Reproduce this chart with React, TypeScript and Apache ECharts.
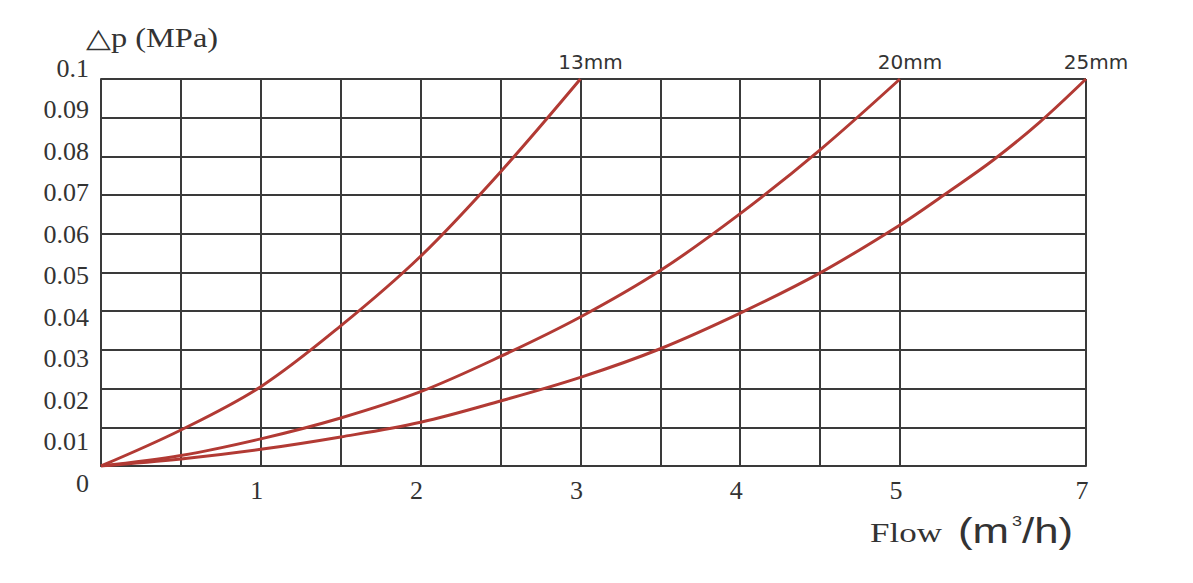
import React, { useEffect, useRef } from "react";
import * as echarts from "echarts";

// ---- data ----
const seriesNames = ["13mm", "20mm", "25mm"];

const flow13 = [0, 0.5, 1, 1.5, 2, 2.5, 3];
const dp13 = [0, 0.0093, 0.0205, 0.0362, 0.0542, 0.076, 0.1];

const flow20 = [0, 0.5, 1, 1.5, 2, 2.5, 3, 3.5, 4, 4.5, 5];
const dp20 = [0, 0.0027, 0.007, 0.0124, 0.0192, 0.0283, 0.0385, 0.0505, 0.0652, 0.0817, 0.1];

const flow25 = [0, 0.5, 1, 1.5, 2, 2.5, 3, 3.5, 4, 4.5, 5, 5.5, 6, 6.5, 7];
const dp25 = [0, 0.0018, 0.0043, 0.0075, 0.0113, 0.0168, 0.0229, 0.0303, 0.0395, 0.0499, 0.0623, 0.0705, 0.079, 0.0888, 0.1];

// vertical grid lines (flow, m3/h) and labelled flow ticks
const xGridFlows = [0, 0.5, 1, 1.5, 2, 2.5, 3, 3.5, 4, 4.5, 5, 7];
const xLabelFlows = [1, 2, 3, 4, 5, 7];
const yTickLabels = ["0", "0.01", "0.02", "0.03", "0.04", "0.05", "0.06", "0.07", "0.08", "0.09", "0.1"];

// The reference compresses the last cell (5 -> 7) of the flow axis.
const LINEAR_END = 5;
const LAST_FLOW = 7;
const LAST_SPAN = 1.164; // axis units used by the 5 -> 7 cell

function flowToAxis(f: number): number {
  return f <= LINEAR_END ? f : LINEAR_END + ((f - LINEAR_END) * LAST_SPAN) / (LAST_FLOW - LINEAR_END);
}
function axisToFlow(a: number): number {
  return a <= LINEAR_END ? a : LINEAR_END + ((a - LINEAR_END) * (LAST_FLOW - LINEAR_END)) / LAST_SPAN;
}

const GRID_COLOR = "#3a3a3a";
const CURVE_COLOR = "#b23a34";
const TEXT_COLOR = "#333";
const SERIF = '"Liberation Serif", "Times New Roman", serif';
const SANS = '"Liberation Sans", Arial, sans-serif';

export default function App() {
  const ref = useRef<HTMLDivElement>(null);

  useEffect(() => {
    if (!ref.current) return;
    const chart = echarts.init(ref.current, undefined, { renderer: "svg" });

    const mk = (name: string, fx: number[], fy: number[]) => ({
      name,
      type: "line",
      xAxisIndex: 0,
      yAxisIndex: 0,
      data: fx.map((f, i) => [flowToAxis(f), fy[i]]),
      showSymbol: false,
      symbol: "none",
      smooth: 0.35,
      lineStyle: { color: CURVE_COLOR, width: 3 },
      itemStyle: { color: CURVE_COLOR },
      endLabel: {
        show: true,
        formatter: "{a}",
        align: "center",
        verticalAlign: "bottom",
        distance: 0,
        offset: [10, -7],
        fontFamily: '"DejaVu Sans", sans-serif',
        fontSize: 20,
        color: TEXT_COLOR,
      },
      z: 5,
    });

    const option = {
      animation: false,
      backgroundColor: "#ffffff",
      grid: [
        { left: 101, right: 107, top: 79, bottom: 117 },
        { left: 101, right: 107, top: 68, bottom: 100 },
      ],
      xAxis: [
        {
          type: "value",
          gridIndex: 0,
          min: 0,
          max: flowToAxis(LAST_FLOW),
          axisLine: { show: true, lineStyle: { color: GRID_COLOR, width: 2 } },
          axisTick: { show: false, customValues: xGridFlows.map(flowToAxis) },
          axisLabel: {
            customValues: xLabelFlows.map(flowToAxis),
            formatter: (v: number) => String(Math.round(axisToFlow(v))),
            margin: 11,
            padding: [0, 8, 0, 0],
            fontFamily: SERIF,
            fontSize: 26,
            color: TEXT_COLOR,
          },
          splitLine: { show: true, lineStyle: { color: GRID_COLOR, width: 2 } },
        },
        { type: "value", gridIndex: 1, min: 0, max: 1, show: false },
      ],
      yAxis: [
        {
          type: "value",
          gridIndex: 0,
          min: 0,
          max: 0.1,
          interval: 0.01,
          axisLine: { show: true, lineStyle: { color: GRID_COLOR, width: 2 } },
          axisTick: { show: false },
          axisLabel: { show: false },
          splitLine: { show: true, lineStyle: { color: GRID_COLOR, width: 2 } },
        },
        {
          type: "value",
          gridIndex: 1,
          min: 0,
          max: 0.1,
          interval: 0.01,
          axisLine: { show: false },
          axisTick: { show: false },
          splitLine: { show: false },
          axisLabel: {
            formatter: (v: number) => yTickLabels[Math.round(v * 100)] ?? "",
            margin: 12,
            fontFamily: SERIF,
            fontSize: 26,
            color: TEXT_COLOR,
          },
        },
      ],
      graphic: [
        {
          type: "text",
          x: 86,
          y: 37,
          scaleX: 1.2,
          style: { text: "△p (MPa)", fontFamily: SERIF, fontSize: 27, fill: TEXT_COLOR, align: "left", verticalAlign: "middle" },
        },
        {
          type: "text",
          x: 870,
          y: 533,
          scaleX: 1.25,
          style: { text: "Flow", fontFamily: SERIF, fontSize: 28, fill: TEXT_COLOR, align: "left", verticalAlign: "middle" },
        },
        {
          type: "text",
          x: 958,
          y: 531,
          scaleX: 1.25,
          style: { text: "(m", fontFamily: SANS, fontSize: 35, fill: TEXT_COLOR, align: "left", verticalAlign: "middle" },
        },
        {
          type: "text",
          x: 1012,
          y: 521,
          scaleX: 1.2,
          style: { text: "3", fontFamily: SANS, fontSize: 15, fill: TEXT_COLOR, align: "left", verticalAlign: "middle" },
        },
        {
          type: "text",
          x: 1022,
          y: 531,
          scaleX: 1.25,
          style: { text: "/h)", fontFamily: SANS, fontSize: 35, fill: TEXT_COLOR, align: "left", verticalAlign: "middle" },
        },
      ],
      series: [
        mk(seriesNames[0], flow13, dp13),
        mk(seriesNames[1], flow20, dp20),
        mk(seriesNames[2], flow25, dp25),
      ],
    };

    chart.setOption(option as any);
    return () => chart.dispose();
  }, []);

  return (
    <div
      ref={ref}
      style={{ position: "fixed", left: 0, top: 0, width: 1193, height: 583, background: "#fff" }}
    />
  );
}
